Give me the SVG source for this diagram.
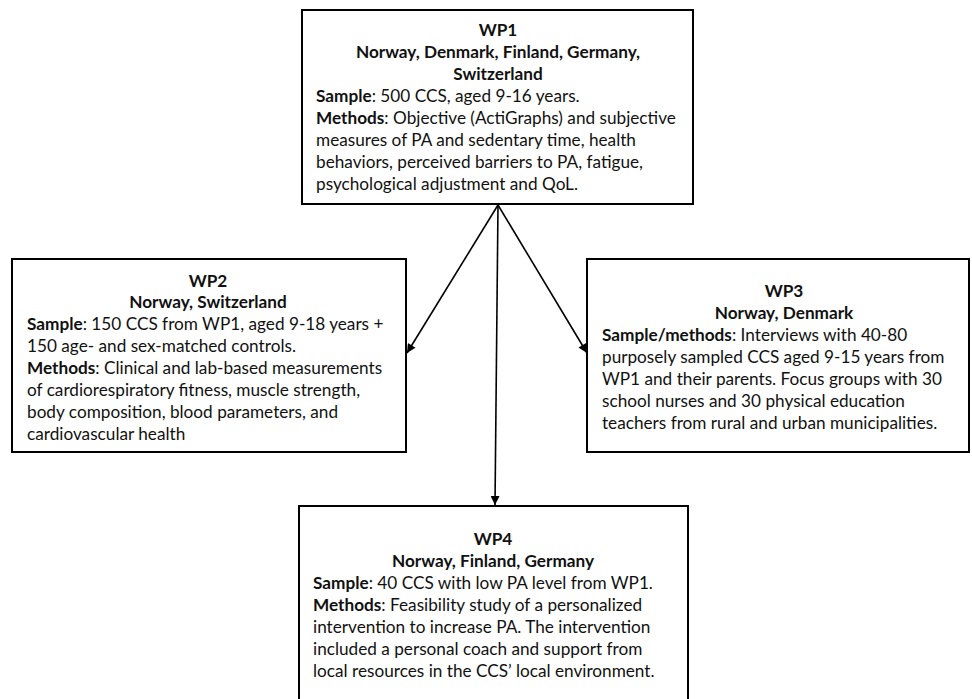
<svg xmlns="http://www.w3.org/2000/svg" width="972" height="699" viewBox="0 0 972 699">
  <style>
    .box { fill: #ffffff; stroke: #000000; stroke-width: 2; }
    .txt { font-family: Lato, "Liberation Sans", sans-serif; font-size: 17.2px; fill: #111111; }
    .ttl { font-weight: bold; text-anchor: middle; }
    .b { font-weight: bold; }
    .edge { stroke: #000000; stroke-width: 1.6; fill: none; marker-end: url(#arrow); }
  </style>
  <defs>
    <marker id="arrow" viewBox="0 0 10 10" refX="10" refY="5" markerWidth="11" markerHeight="9" markerUnits="userSpaceOnUse" orient="auto">
      <path d="M0,0 L10,5 L0,10 z" fill="#000000"/>
    </marker>
  </defs>
  <rect width="972" height="699" fill="#ffffff"/>

  <g id="connectors">
    <line class="edge" x1="498" y1="205" x2="407" y2="353"/>
    <line class="edge" x1="498" y1="205" x2="587" y2="353"/>
    <line class="edge" x1="498" y1="205" x2="495" y2="505"/>
  </g>

  <g id="wp1">
    <rect class="box" x="302" y="10" width="391" height="194"/>
    <text class="txt ttl" x="498" y="36">WP1</text>
    <text class="txt ttl" x="498" y="58">Norway, Denmark, Finland, Germany,</text>
    <text class="txt ttl" x="498" y="80">Switzerland</text>
    <text class="txt" x="316" y="102"><tspan class="b">Sample</tspan>: 500 CCS, aged 9-16 years.</text>
    <text class="txt" x="316" y="124"><tspan class="b">Methods</tspan>: Objective (ActiGraphs) and subjective</text>
    <text class="txt" x="316" y="146">measures of PA and sedentary time, health</text>
    <text class="txt" x="316" y="168">behaviors, perceived barriers to PA, fatigue,</text>
    <text class="txt" x="316" y="190">psychological adjustment and QoL.</text>
  </g>

  <g id="wp2">
    <rect class="box" x="12" y="259" width="394" height="193"/>
    <text class="txt ttl" x="208" y="287">WP2</text>
    <text class="txt ttl" x="208" y="308">Norway, Switzerland</text>
    <text class="txt" x="27" y="330"><tspan class="b">Sample</tspan>: 150 CCS from WP1, aged 9-18 years +</text>
    <text class="txt" x="27" y="352">150 age- and sex-matched controls.</text>
    <text class="txt" x="27" y="374"><tspan class="b">Methods</tspan>: Clinical and lab-based measurements</text>
    <text class="txt" x="27" y="396">of cardiorespiratory fitness, muscle strength,</text>
    <text class="txt" x="27" y="418">body composition, blood parameters, and</text>
    <text class="txt" x="27" y="440">cardiovascular health</text>
  </g>

  <g id="wp3">
    <rect class="box" x="587" y="259" width="382" height="193"/>
    <text class="txt ttl" x="784" y="297">WP3</text>
    <text class="txt ttl" x="784" y="319">Norway, Denmark</text>
    <text class="txt" x="602" y="341"><tspan class="b">Sample/methods</tspan>: Interviews with 40-80</text>
    <text class="txt" x="602" y="363">purposely sampled CCS aged 9-15 years from</text>
    <text class="txt" x="602" y="385">WP1 and their parents. Focus groups with 30</text>
    <text class="txt" x="602" y="407">school nurses and 30 physical education</text>
    <text class="txt" x="602" y="429">teachers from rural and urban municipalities.</text>
  </g>

  <g id="wp4">
    <rect class="box" x="299" y="506" width="389" height="210"/>
    <text class="txt ttl" x="493" y="545">WP4</text>
    <text class="txt ttl" x="493" y="567">Norway, Finland, Germany</text>
    <text class="txt" x="313" y="589"><tspan class="b">Sample</tspan>: 40 CCS with low PA level from WP1.</text>
    <text class="txt" x="313" y="611"><tspan class="b">Methods</tspan>: Feasibility study of a personalized</text>
    <text class="txt" x="313" y="633">intervention to increase PA. The intervention</text>
    <text class="txt" x="313" y="655">included a personal coach and support from</text>
    <text class="txt" x="313" y="677">local resources in the CCS’ local environment.</text>
  </g>
</svg>
